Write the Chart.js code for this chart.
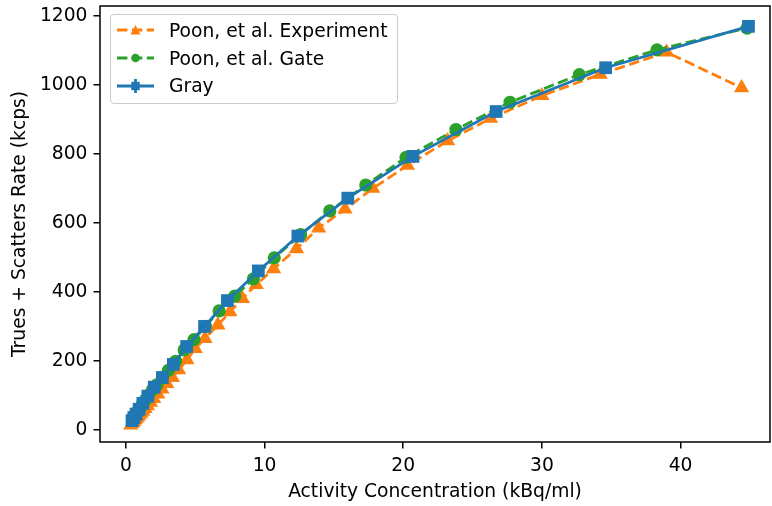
<!DOCTYPE html>
<html>
<head>
<meta charset="utf-8">
<script src="https://cdn.jsdelivr.net/npm/chart.js@4.4.0/dist/chart.umd.min.js"></script>
<style>
    body { margin: 0; background: #fff; }
    #wrap { position: relative; width: 772px; height: 506px; }
    #legend {
        position: absolute; left: 110px; top: 14px; width: 288px; height: 90px;
        box-sizing: border-box; border: 1px solid #ccc; border-radius: 4px;
        background: rgba(255, 255, 255, 0.8);
        font-family: "DejaVu Sans"; font-size: 18.7px; color: #000;
    }
    .row { position: absolute; left: 0; height: 28px; display: flex; align-items: center; }
    .row svg { margin-left: 6px; }
    .row span { margin-left: 15px; white-space: nowrap; }
</style>
</head>
<body>
<div id="wrap">
    <canvas id="chart" width="772" height="506"></canvas>
    <div id="legend"></div>
</div>
<script>
// Poon, et al. Experiment
const expX = [0.35, 0.44, 0.5, 0.57, 0.65, 0.74, 0.84, 0.95, 1.08, 1.22, 1.38, 1.56, 1.77, 2.0, 2.3, 2.6, 2.95, 3.35, 3.8, 4.4, 5.0, 5.7, 6.63, 7.5, 8.4, 9.4, 10.65, 12.3, 13.9, 15.8, 17.8, 20.3, 23.2, 26.3, 30.0, 34.2, 39.0, 44.4];
const expY = [14, 19, 22, 25, 29, 33, 37, 42, 48, 54, 62, 70, 80, 91, 104, 118, 134, 152, 174, 203, 236, 265, 304, 342, 381, 421, 467, 525, 585, 640, 700, 767, 838, 903, 969, 1031, 1095, 992];

// Poon, et al. Gate
const gateX = [0.47, 0.55, 0.64, 0.75, 0.87, 1.02, 1.2, 1.4, 1.64, 1.92, 2.24, 2.62, 3.07, 3.59, 4.2, 4.91, 5.74, 6.72, 7.85, 9.19, 10.7, 12.6, 14.7, 17.3, 20.2, 23.8, 27.7, 32.7, 38.3, 44.8];
const gateY = [29, 34, 40, 47, 55, 64, 76, 87, 101, 117, 131, 151, 173, 199, 232, 262, 300, 345, 388, 438, 499, 566, 635, 710, 790, 871, 950, 1030, 1102, 1165];

// Gray
const grayX = [0.44, 0.57, 0.73, 0.95, 1.22, 1.58, 2.04, 2.63, 3.42, 4.38, 5.67, 7.32, 9.55, 12.4, 16.0, 20.7, 26.7, 34.6, 44.9];
const grayY = [27, 36, 46, 60, 77, 98, 124, 152, 190, 242, 300, 375, 461, 562, 672, 793, 923, 1050, 1170];

const xTicks = [0, 10, 20, 30, 40];
const yTicks = [0, 200, 400, 600, 800, 1000, 1200];

const orange = "#ff7f0e";
const green = "#2ca02c";
const blue = "#1f77b4";
const font = { family: "DejaVu Sans", size: 18.7 };

const toPoints = (xs, ys) => xs.map((x, i) => ({ x: x, y: ys[i] }));

const series = [
    { label: "Poon, et al. Experiment", xs: expX, ys: expY, color: orange, dash: [10.4, 4.5], marker: "triangle", radius: 8.8, order: 2 },
    { label: "Poon, et al. Gate", xs: gateX, ys: gateY, color: green, dash: [10.4, 4.5], marker: "circle", radius: 6.6, order: 1 },
    { label: "Gray", xs: grayX, ys: grayY, color: blue, dash: [], marker: "rect", radius: 9, order: 0 }
];

// pin the plot box to where the axes sit in the picture
const area = { left: 100, right: 770, top: 6, bottom: 442 };

const fixArea = {
    id: "fixArea",
    afterLayout(chart) {
        const a = chart.chartArea;
        Object.assign(a, area);
        a.width = area.right - area.left;
        a.height = area.bottom - area.top;

        const x = chart.scales.x;
        x.left = area.left; x.right = area.right; x.width = a.width;
        x.top = area.bottom; x.bottom = chart.height; x.height = chart.height - area.bottom;
        x.configure();

        const y = chart.scales.y;
        y.left = 0; y.right = area.left; y.width = area.left;
        y.top = area.top; y.bottom = area.bottom; y.height = a.height;
        y.configure();
    }
};

const frame = {
    id: "frame",
    afterDatasetsDraw(chart) {
        const { ctx, chartArea: a } = chart;
        ctx.save();
        ctx.strokeStyle = "#000";
        ctx.lineWidth = 1.5;
        ctx.strokeRect(a.left, a.top, a.right - a.left, a.bottom - a.top);
        ctx.restore();
    }
};

new Chart(document.getElementById("chart").getContext("2d"), {
    type: "line",
    data: {
        datasets: series.map(s => ({
            label: s.label,
            data: toPoints(s.xs, s.ys),
            borderColor: s.color,
            backgroundColor: s.color,
            borderWidth: 2.8,
            borderDash: s.dash,
            pointStyle: s.marker,
            pointRadius: s.radius,
            pointBorderWidth: 0,
            pointBackgroundColor: s.color,
            tension: 0,
            fill: false,
            order: s.order
        }))
    },
    options: {
        responsive: false,
        animation: false,
        devicePixelRatio: 1,
        layout: { padding: { top: 6, right: 1, left: 0, bottom: 0 } },
        plugins: { legend: { display: false }, tooltip: { enabled: false } },
        scales: {
            x: {
                type: "linear",
                min: -1.87,
                max: 46.45,
                border: { display: false },
                grid: { display: true, drawOnChartArea: false, drawTicks: true, tickLength: 6.5, color: "#000", lineWidth: 1.5 },
                ticks: { color: "#000", font: font, padding: 6.5, maxRotation: 0, callback: v => String(v) },
                afterBuildTicks: (scale) => { scale.ticks = xTicks.map(v => ({ value: v })); },
                afterFit: (scale) => { scale.height = 64; },
                title: { display: true, text: "Activity Concentration (kBq/ml)", color: "#000", font: font, padding: { top: 0, bottom: 3 } }
            },
            y: {
                type: "linear",
                min: -35,
                max: 1229,
                border: { display: false },
                grid: { display: true, drawOnChartArea: false, drawTicks: true, tickLength: 6.5, color: "#000", lineWidth: 1.5 },
                ticks: { color: "#000", font: font, padding: 6, callback: v => String(v) },
                afterBuildTicks: (scale) => { scale.ticks = yTicks.map(v => ({ value: v })); },
                afterFit: (scale) => { scale.width = 100; },
                title: { display: true, text: "Trues + Scatters Rate (kcps)", color: "#000", font: font, padding: { top: 9, bottom: 0 } }
            }
        }
    },
    plugins: [fixArea, frame]
});

// legend drawn as html, samples from the series styles
const legend = document.getElementById("legend");
const rowTops = [1.3, 29, 56.7];
series.forEach((s, i) => {
    const row = document.createElement("div");
    row.className = "row";
    row.style.top = rowTops[i] + "px";
    let marker = "";
    if (s.marker === "triangle") {
        marker = `<polygon points="18.5,5 13.5,14.5 23.5,14.5" fill="${s.color}"/>`;
    } else if (s.marker === "circle") {
        marker = `<circle cx="18.5" cy="10" r="4.3" fill="${s.color}"/>`;
    } else {
        marker = `<line x1="18.5" y1="3" x2="18.5" y2="17" stroke="${s.color}" stroke-width="2.8"/>` +
                 `<rect x="14.3" y="5.8" width="8.4" height="8.4" fill="${s.color}"/>`;
    }
    const dash = s.dash.length ? `stroke-dasharray="${s.dash.join(" ")}"` : "";
    row.innerHTML = `<svg width="37" height="20"><line x1="0" y1="10" x2="37" y2="10" stroke="${s.color}" stroke-width="2.8" ${dash}/>${marker}</svg><span>${s.label}</span>`;
    legend.appendChild(row);
});
</script>
</body>
</html>
